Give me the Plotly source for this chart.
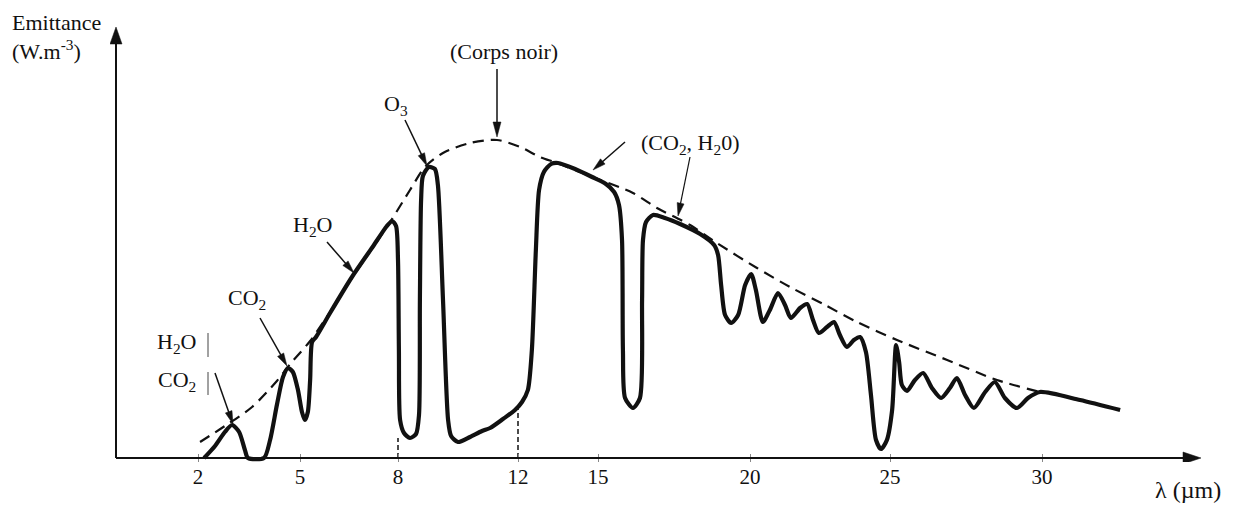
import numpy as np
import plotly.graph_objects as go

# ---------------- data ----------------
# axis ticks (wavelength, µm) and the drawn axis scale (not linear in the original figure)
TICK_WL = [2, 5, 8, 12, 15, 20, 25, 30]
TICK_LABELS = ["2", "5", "8", "12", "15", "20", "25", "30"]
AXIS_SCALE_POS = [198, 300, 398, 518, 598, 750, 890, 1042]

# measured spectrum (solid line): wavelength (µm) and relative emittance
SPEC_WL = [2.18, 2.50, 2.79, 3.00, 3.21, 3.38, 3.47, 3.94, 4.12, 4.32, 4.50, 4.65, 4.79, 4.94,
           5.06, 5.15, 5.24, 5.31, 5.37, 5.49, 5.92, 6.59, 7.20, 7.66, 7.82, 7.94, 8.00, 8.03,
           8.07, 8.20, 8.40, 8.60, 8.70, 8.73, 8.77, 8.83, 9.03, 9.23, 9.33, 9.50, 9.67, 9.77,
           10.00, 10.40, 10.80, 11.07, 11.50, 11.90, 12.15, 12.37, 12.52, 12.67, 12.79, 12.97,
           13.24, 13.50, 14.14, 14.78, 15.26, 15.53, 15.69, 15.79, 15.82, 15.89, 16.15, 16.38,
           16.45, 16.48, 16.58, 16.81, 17.20, 17.70, 18.36, 18.82, 18.95, 19.05, 19.18, 19.38,
           19.61, 19.84, 20.04, 20.21, 20.46, 20.71, 21.00, 21.25, 21.46, 21.79, 22.04, 22.25,
           22.46, 22.75, 23.00, 23.21, 23.46, 23.71, 23.93, 24.14, 24.32, 24.50, 24.68, 24.89,
           25.07, 25.20, 25.30, 25.39, 25.56, 25.82, 26.09, 26.38, 26.68, 26.97, 27.20, 27.47,
           27.76, 28.13, 28.45, 28.78, 29.18, 29.54, 29.93, 31.25, 32.57]
SPEC_E = [0, 12, 26, 33, 26, 8, 0, 0, 18, 53, 81, 90, 86, 68,
          46, 38, 46, 78, 116, 121, 145, 181, 210, 232, 237, 232, 198, 108,
          38, 25, 20, 24, 43, 158, 258, 282, 291, 289, 273, 158, 38, 22,
          16, 21, 27, 30, 39, 48, 56, 68, 108, 208, 268, 286,
          294, 295, 289, 281, 274, 266, 253, 218, 108, 60, 50, 60,
          158, 218, 236, 243, 240, 234, 224, 213, 203, 173, 143, 135,
          143, 173, 184, 168, 136, 148, 165, 153, 140, 150, 154, 138,
          125, 131, 136, 123, 111, 118, 121, 106, 63, 18, 9, 18,
          48, 113, 96, 73, 67, 78, 85, 70, 60, 70, 80, 63,
          50, 66, 76, 60, 50, 60, 66, 58, 48]

# black body envelope (dashed line)
BB_WL = [2.06, 2.79, 3.59, 4.32, 4.71, 5.31, 5.92, 6.59, 7.20, 7.76, 8.40, 8.90, 9.50, 10.40,
         11.30, 12.08, 12.82, 13.46, 14.70, 16.15, 16.94, 18.03, 18.91, 20.25, 21.43, 22.68,
         23.82, 25.23, 26.88, 28.52, 29.93]
BB_E = [16, 32, 51, 77, 94, 117, 146, 180, 209, 236, 268, 291, 305, 315,
        318, 311, 301, 295, 282, 265, 250, 233, 215, 190, 171, 153,
        136, 118, 98, 78, 66]

# reference wavelengths marked with short vertical lines, and their heights
MARK_WL = [8, 12]
MARK_TOP = [20, 53]

# ---------------- scale ----------------
def wl_to_pos(w):
    w = np.asarray(w, dtype=float)
    p = np.interp(w, TICK_WL, AXIS_SCALE_POS)
    lo_slope = (AXIS_SCALE_POS[1] - AXIS_SCALE_POS[0]) / (TICK_WL[1] - TICK_WL[0])
    hi_slope = (AXIS_SCALE_POS[-1] - AXIS_SCALE_POS[-2]) / (TICK_WL[-1] - TICK_WL[-2])
    p = np.where(w < TICK_WL[0], AXIS_SCALE_POS[0] + (w - TICK_WL[0]) * lo_slope, p)
    p = np.where(w > TICK_WL[-1], AXIS_SCALE_POS[-1] + (w - TICK_WL[-1]) * hi_slope, p)
    return p

BASE = 458  # row of the wavelength axis
X_RANGE = [110, 1206]
Y_RANGE = [-4, 436]

def Y(py):
    return BASE - py

def to_paper(x, py):
    return ((x - X_RANGE[0]) / (X_RANGE[1] - X_RANGE[0]),
            (Y(py) - Y_RANGE[0]) / (Y_RANGE[1] - Y_RANGE[0]))

FONT = "Liberation Serif, Times New Roman, serif"
INK = "#111111"

fig = go.Figure()

# black body (dashed)
fig.add_trace(go.Scatter(x=wl_to_pos(BB_WL), y=BB_E, mode="lines",
                         line=dict(color=INK, width=2.2, dash="11px,7px", shape="spline", smoothing=0.8),
                         hoverinfo="skip"))
# measured spectrum (solid)
fig.add_trace(go.Scatter(x=wl_to_pos(SPEC_WL), y=SPEC_E, mode="lines",
                         line=dict(color=INK, width=4.2, shape="spline", smoothing=0.7),
                         hoverinfo="skip"))
# marks at 8 and 12 µm
for w, top in zip(MARK_WL, MARK_TOP):
    fig.add_trace(go.Scatter(x=wl_to_pos([w, w]), y=[0, top], mode="lines",
                             line=dict(color=INK, width=1.5, dash="5px,3px"), hoverinfo="skip"))

shapes = []
def arrow(tail, tip, hl=13, hw=7, lw=1.5):
    x0, y0 = tail[0], Y(tail[1])
    x1, y1 = tip[0], Y(tip[1])
    dx, dy = x1 - x0, y1 - y0
    L = (dx * dx + dy * dy) ** 0.5
    ux, uy = dx / L, dy / L
    bx, by = x1 - ux * hl, y1 - uy * hl
    px_, py_ = -uy * hw / 2, ux * hw / 2
    shapes.append(dict(type="line", x0=x0, y0=y0, x1=bx + ux * 2, y1=by + uy * 2,
                       xref="x", yref="y", line=dict(color=INK, width=lw), layer="above"))
    shapes.append(dict(type="path", xref="x", yref="y", layer="above",
                       path=f"M{x1},{y1} L{bx + px_},{by + py_} L{bx - px_},{by - py_} Z",
                       fillcolor=INK, line=dict(color=INK, width=0.5)))

# axes with arrow heads
arrow((116, BASE), (116, 27), hl=17, hw=12, lw=2)
arrow((116, BASE), (1201, BASE), hl=18, hw=12, lw=2)

# label arrows
arrow((215, 373), (233, 424))
arrow((260, 318), (287, 366))
arrow((327, 242), (354, 273))
arrow((405, 120), (427, 166))
arrow((497, 69), (497, 137), hl=15, hw=8)
arrow((625, 142), (593, 170))
arrow((690, 157), (678, 216), lw=1.2)

# small vertical bars beside the H2O / CO2 labels
for ya, yb in [(333, 357), (372, 395)]:
    shapes.append(dict(type="line", xref="x", yref="y", x0=208, x1=208, y0=Y(ya), y1=Y(yb),
                       line=dict(color="#444", width=1)))

ann = []
def label(text, x, py, size=22, xanchor="center"):
    xp, yp = to_paper(x, py)
    ann.append(dict(text=text, x=xp, y=yp, xref="paper", yref="paper", showarrow=False,
                    xanchor=xanchor, yanchor="middle",
                    font=dict(family=FONT, size=size, color=INK)))

label("Emittance", 10, 22, size=22, xanchor="left")
label("(W.m<sup>-3</sup>)", 10, 50, size=22, xanchor="left")
label("H<sub>2</sub>O", 176, 343)
label("CO<sub>2</sub>", 177, 381)
label("CO<sub>2</sub>", 247, 299)
label("H<sub>2</sub>O", 312, 226)
label("O<sub>3</sub>", 396, 105)
label("(Corps noir)", 504, 51)
label("(CO<sub>2</sub>, H<sub>2</sub>0)", 690, 144)
label("λ (µm)", 1188, 490, size=24)

# the page adds an 8 px body margin, so the figure is drawn 8 px smaller
fig.update_layout(
    width=1244, height=497,
    margin=dict(l=102, r=46, t=14, b=43),
    paper_bgcolor="white", plot_bgcolor="white",
    showlegend=False, hovermode=False,
    shapes=shapes, annotations=ann,
    xaxis=dict(range=X_RANGE, tickvals=AXIS_SCALE_POS, ticktext=TICK_LABELS,
               ticks="inside", ticklen=8, tickcolor="#888", tickwidth=1,
               showgrid=False, zeroline=False, showline=False,
               tickfont=dict(family=FONT, size=21, color=INK), fixedrange=True),
    yaxis=dict(range=Y_RANGE, showticklabels=False, ticks="", showgrid=False,
               zeroline=False, showline=False, fixedrange=True),
)

fig.write_html("out.html")
